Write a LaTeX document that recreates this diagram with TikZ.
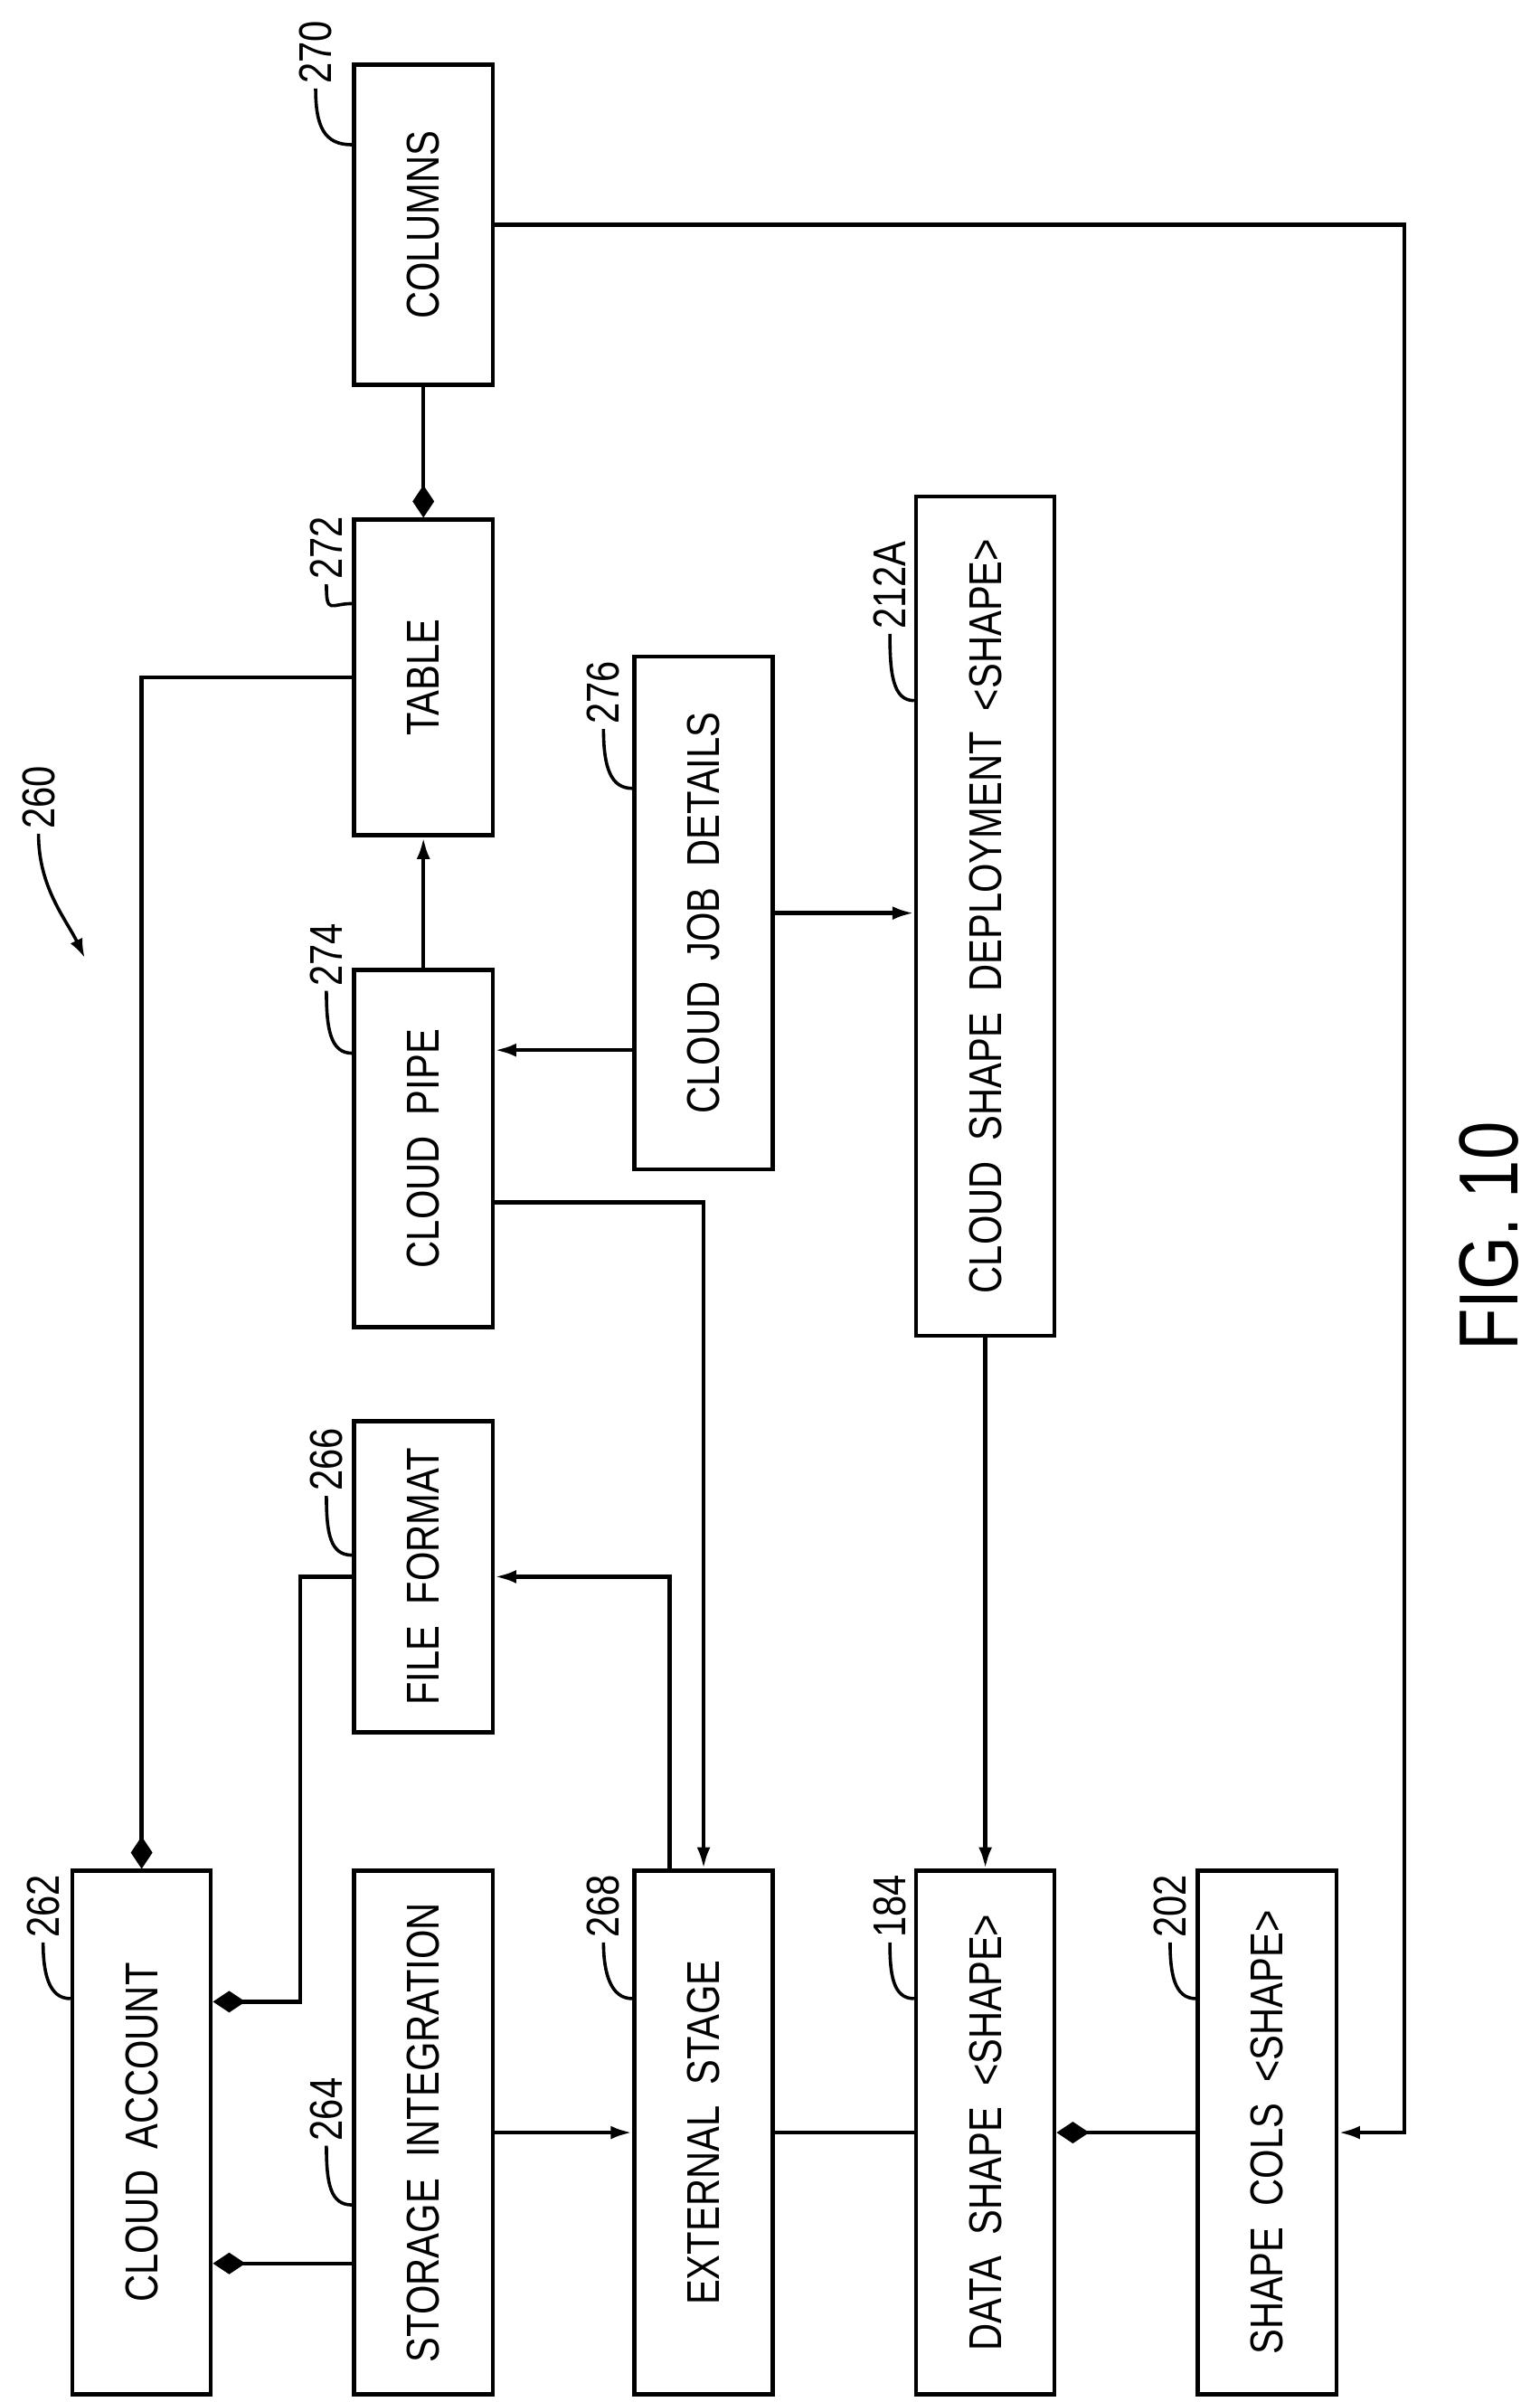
\documentclass[tikz,border=0pt]{standalone}
\usepackage{fontspec}
\setmainfont{Liberation Sans}[FakeStretch=0.82]
\usetikzlibrary{arrows.meta,calc}
\begin{document}
\begin{tikzpicture}[x=0.02cm,y=-0.02cm,line width=1.5pt,
 box/.style={draw,minimum width=1.8cm,inner sep=0pt,font=\fontsize{17}{20}\selectfont},
 lab/.style={rotate=90,inner sep=1pt,font=\fontsize{17}{20}\selectfont},
 arr/.style={-{Latex[length=8pt,width=5pt]}},
 dia/.style={-{Diamond[length=12pt,width=8pt]}},
 lead/.style={line width=1.2pt}]
\useasboundingbox (0,0) rectangle (1000,1560);
\node[box,minimum height=4.16cm] (col) at (275,146) {\rotatebox{90}{COLUMNS}};
\node[box,minimum height=4.1cm] (tab) at (275,440) {\rotatebox{90}{TABLE}};
\node[box,minimum height=4.64cm] (pipe) at (275,746) {\rotatebox{90}{CLOUD\ \ PIPE}};
\node[box,minimum height=6.66cm] (job) at (457,593) {\rotatebox{90}{CLOUD\ \ JOB\ \ DETAILS}};
\node[box,minimum height=10.9cm] (dep) at (640,595) {\rotatebox{90}{CLOUD\ \ SHAPE\ \ DEPLOYMENT\ \ <SHAPE>}};
\node[box,minimum height=4.04cm] (ff) at (275,1024) {\rotatebox{90}{FILE\ \ FORMAT}};
\node[box,minimum height=6.8cm] (ca) at (92,1385) {\rotatebox{90}{CLOUD\ \ ACCOUNT}};
\node[box,minimum height=6.8cm] (si) at (275,1385) {\rotatebox{90}{STORAGE\ \ INTEGRATION}};
\node[box,minimum height=6.8cm] (es) at (457,1385) {\rotatebox{90}{EXTERNAL\ \ STAGE}};
\node[box,minimum height=6.8cm] (ds) at (640,1385) {\rotatebox{90}{DATA\ \ SHAPE\ \ <SHAPE>}};
\node[box,minimum height=6.8cm] (sc) at (823,1385) {\rotatebox{90}{SHAPE\ \ COLS\ \ <SHAPE>}};
\coordinate (v912) at (912,0);
\coordinate (v435) at (435,0);
\coordinate (v195) at (195,0);
\coordinate (h682) at (0,682);
\coordinate (h781) at (0,781);
\coordinate (h1300) at (0,1300);
\coordinate (h1470) at (0,1470);
% connectors
\draw[arr] (col.east) -- (col.east -| v912) -- (sc.east -| v912) -- (sc.east);
\draw[dia] (col.south) -- (tab.north);
\draw[dia] (tab.west) -| (ca.north);
\draw[arr] (pipe.north) -- (tab.south);
\draw[arr] (job.west |- h682) -- (pipe.east |- h682);
\draw[arr] (job.east) -- (job.east -| dep.west);
\draw[arr] (pipe.east |- h781) -| (es.north);
\draw[arr] (dep.south) -- (ds.north);
\draw[arr] (es.north -| v435) |- (ff.east);
\draw[dia] (ff.west) -- (ff.west -| v195) -- (v195 |- h1300) -- (ca.east |- h1300);
\draw[dia] (si.west |- h1470) -- (ca.east |- h1470);
\draw[arr] (si.east) -- (es.west);
\draw (es.east) -- (ds.west);
\draw[dia] (sc.west) -- (ds.east);
% labels
\node[lab] (l270) at (205,34) {270};
\draw[lead] (l270.west) .. controls +(0,25) and +(-18,0) .. (col.north west |- 0,94);
\node[lab] (l272) at (212,356) {272};
\draw[lead] (l272.west) .. controls +(0,20) and +(-14,0) .. (tab.north west |- 0,392);
\node[lab] (l274) at (212,620) {274};
\draw[lead] (l274.west) .. controls +(0,25) and +(-14,0) .. (pipe.north west |- 0,684);
\node[lab] (l276) at (392,450) {276};
\draw[lead] (l276.west) .. controls +(0,25) and +(-14,0) .. (job.north west |- 0,512);
\node[lab] (l212) at (578,380) {212A};
\draw[lead] (l212.west) .. controls +(0,25) and +(-14,0) .. (dep.north west |- 0,455);
\node[lab] (l266) at (212,948) {266};
\draw[lead] (l266.west) .. controls +(0,25) and +(-14,0) .. (ff.north west |- 0,1010);
\node[lab] (l262) at (28,1238) {262};
\draw[lead] (l262.west) .. controls +(0,20) and +(-14,0) .. (ca.north west |- 0,1298);
\node[lab] (l264) at (212,1370) {264};
\draw[lead] (l264.west) .. controls +(0,25) and +(-14,0) .. (si.north west |- 0,1432);
\node[lab] (l268) at (392,1238) {268};
\draw[lead] (l268.west) .. controls +(0,20) and +(-14,0) .. (es.north west |- 0,1298);
\node[lab] (l184) at (578,1238) {184};
\draw[lead] (l184.west) .. controls +(0,20) and +(-14,0) .. (ds.north west |- 0,1298);
\node[lab] (l202) at (760,1238) {202};
\draw[lead] (l202.west) .. controls +(0,20) and +(-14,0) .. (sc.north west |- 0,1298);
\node[lab] (l260) at (25,518) {260};
\draw[lead,-{Latex[length=7pt,width=5pt]}] (l260.west) .. controls +(0,35) and +(-12,-25) .. (55,622);
\node[rotate=90,inner sep=0pt,font=\fontsize{31}{34}\selectfont] (fig) at (967,803) {FIG. 10};
\end{tikzpicture}
\end{document}
